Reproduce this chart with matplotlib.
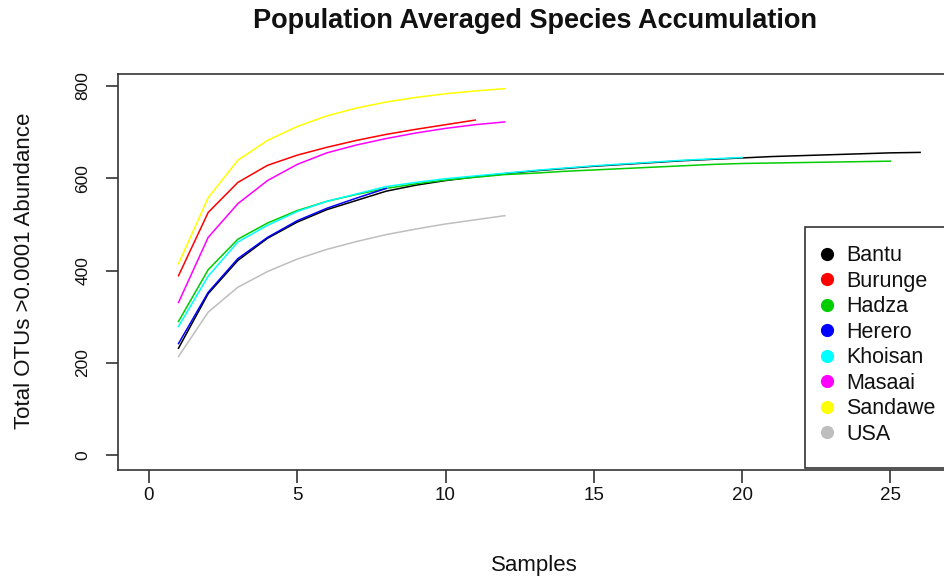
import matplotlib
matplotlib.use("Agg")
import matplotlib.pyplot as plt
from matplotlib.lines import Line2D
from matplotlib.patches import Rectangle

plt.rcParams['font.family'] = ['Liberation Sans', 'DejaVu Sans']

# Mean cumulative OTU counts per number of pooled samples
populations = ["Bantu", "Burunge", "Hadza", "Herero", "Khoisan", "Masaai", "Sandawe", "USA"]
colors = ["black", "#FF0000", "#00CD00", "#0000FF", "#00FFFF", "#FF00FF", "#FFFF00", "#BEBEBE"]

bantu = [232, 350, 422, 470, 505, 532, 552, 572, 585, 595, 603, 610, 616, 621, 626,
         630, 634, 638, 641, 644, 647, 649, 651, 653, 655, 656]
burunge = [389, 526, 591, 628, 650, 667, 682, 695, 706, 716, 726]
hadza = [290, 402, 468, 503, 530, 550, 565, 578, 588, 596, 602, 608, 611, 615, 618,
         621, 624, 627, 630, 632, 633, 634, 635, 636, 637]
herero = [242, 353, 426, 472, 508, 535, 557, 578]
khoisan = [279, 388, 462, 498, 528, 550, 566, 582, 591, 599, 605, 611, 617, 622, 627,
           631, 635, 639, 642, 645]
masaai = [331, 472, 545, 595, 630, 655, 672, 686, 698, 708, 716, 722]
sandawe = [415, 558, 639, 682, 712, 735, 752, 765, 775, 783, 789, 794]
usa = [214, 310, 364, 398, 425, 446, 463, 478, 490, 501, 510, 519]

series = [bantu, burunge, hadza, herero, khoisan, masaai, sandawe, usa]

x_ticks = [0, 5, 10, 15, 20, 25]
y_ticks = [0, 200, 400, 600, 800]

W, H = 945, 584
fig = plt.figure(figsize=(W / 100, H / 100), dpi=100)
fig.patch.set_facecolor("white")

# plot region in pixels (right edge runs slightly past the canvas)
left_px, right_px, top_px, bottom_px = 118, 951, 74, 470
ax = fig.add_axes([left_px / W, (H - bottom_px) / H,
                   (right_px - left_px) / W, (bottom_px - top_px) / H])

for vals, col in zip(series, colors):
    xs = list(range(1, len(vals) + 1))
    ax.plot(xs, vals, color=col, lw=1.1, solid_joinstyle="round")

xmax = max(len(s) for s in series)
ymax = max(max(s) for s in series)
ax.set_xlim(-0.04 * xmax, xmax * 1.04)
ax.set_ylim(-0.04 * ymax, ymax * 1.04)

ax.set_xticks(x_ticks)
ax.set_yticks(y_ticks)
ax.set_xticklabels([str(t) for t in x_ticks], fontsize=13.5)
ax.set_yticklabels([str(t) for t in y_ticks], fontsize=12.5, rotation=90, va="center")
ax.tick_params(axis="both", direction="out", length=9, width=1.2, color="#333333",
               labelcolor="#111111")
ax.tick_params(axis="x", pad=3)
ax.tick_params(axis="y", pad=11)
for sp in ax.spines.values():
    sp.set_color("#333333")
    sp.set_linewidth(1.2)

# legend box
ax.add_patch(Rectangle((0.8247, 0.005), 0.2, 0.609, transform=ax.transAxes,
                       facecolor="white", edgecolor="#333333", lw=1.2, zorder=5))
handles = [Line2D([], [], ls="none", marker="o", markersize=8.5, color=c) for c in colors]
leg = ax.legend(handles, populations, loc="upper left",
                bbox_to_anchor=(0.8247, 0.595), frameon=False, fontsize=15.5,
                handlelength=1.0, handletextpad=0.4, labelspacing=0.21,
                borderaxespad=0.0, borderpad=0.5)
leg.set_zorder(6)
for t in leg.get_texts():
    t.set_color("#111111")

fig.text(535 / W, 1 - 21 / H, "Population Averaged Species Accumulation",
         ha="center", va="center", fontsize=19.5, fontweight="bold", color="#111111")
fig.text(534 / W, 1 - 565 / H, "Samples", ha="center", va="center",
         fontsize=16, color="#111111")
fig.text(25 / W, 1 - 271 / H, "Total OTUs >0.0001 Abundance", ha="center",
         va="center", rotation=90, fontsize=16, color="#111111")

fig.savefig("out.png", dpi=100, facecolor="white")
